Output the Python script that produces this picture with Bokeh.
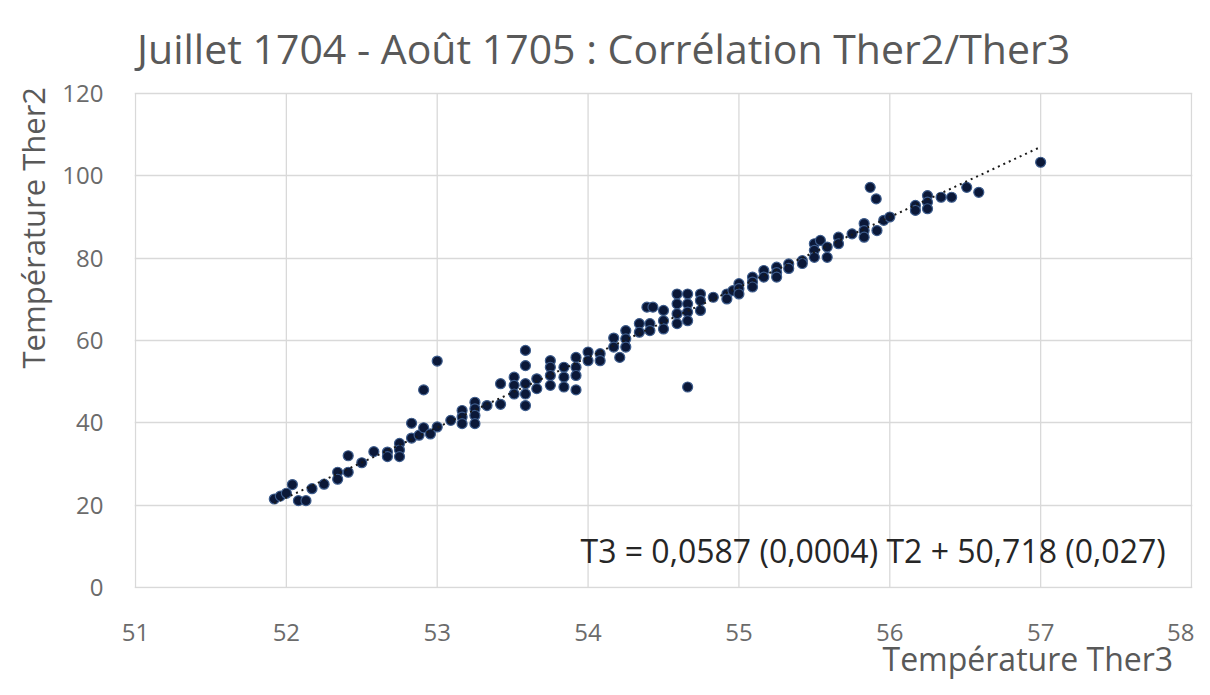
from bokeh.plotting import figure
from bokeh.models import FixedTicker, Label, Range1d, ColumnDataSource, Title
from bokeh.embed import file_html
from bokeh.resources import INLINE

title_text = "Juillet 1704 - Août 1705 : Corrélation Ther2/Ther3"
x_label = "Température Ther3"
y_label = "Température Ther2"
equation_text = "T3 = 0,0587 (0,0004) T2 + 50,718 (0,027)"
slope = 0.0587
intercept = 50.718
x_ticks = [51, 52, 53, 54, 55, 56, 57, 58]
y_ticks = [0, 20, 40, 60, 80, 100, 120]

ther3 = [
    51.92, 51.96, 52.00, 52.04, 52.08, 52.13, 52.17, 52.25, 52.34, 52.34,
    52.41, 52.41, 52.50, 52.58, 52.67, 52.67, 52.75, 52.75, 52.75, 52.83,
    52.83, 52.88, 52.91, 52.91, 52.955, 53.00, 53.00, 53.09, 53.165, 53.165,
    53.165, 53.25, 53.25, 53.25, 53.25, 53.33, 53.42, 53.42, 53.51, 53.51,
    53.51, 53.585, 53.585, 53.585, 53.585, 53.585, 53.66, 53.66, 53.75, 53.75,
    53.75, 53.75, 53.84, 53.84, 53.84, 53.92, 53.92, 53.92, 53.92, 54.00,
    54.00, 54.08, 54.08, 54.17, 54.17, 54.21, 54.25, 54.25, 54.25, 54.34,
    54.34, 54.39, 54.43, 54.41, 54.41, 54.50, 54.50, 54.50, 54.59, 54.59,
    54.59, 54.59, 54.66, 54.66, 54.66, 54.66, 54.66, 54.745, 54.745, 54.745,
    54.83, 54.92, 54.92, 54.96, 55.00, 55.00, 55.00, 55.09, 55.09, 55.09,
    55.165, 55.165, 55.25, 55.25, 55.25, 55.33, 55.33, 55.42, 55.42, 55.50,
    55.50, 55.50, 55.54, 55.585, 55.585, 55.66, 55.66, 55.75, 55.83, 55.83,
    55.83, 55.87, 55.91, 55.915, 55.96, 56.00, 56.17, 56.17, 56.25, 56.25,
    56.25, 56.34, 56.41, 56.51, 56.59, 57.00,
]
ther2 = [
    21.5, 22.2, 22.9, 25.0, 21.1, 21.1, 24.0, 25.1, 28.0, 26.3,
    32.0, 28.0, 30.3, 33.0, 32.9, 31.8, 35.0, 33.4, 31.8, 39.9,
    36.3, 37.0, 48.0, 38.8, 37.3, 55.0, 39.0, 40.6, 43.0, 41.4,
    39.8, 45.0, 43.4, 41.8, 39.8, 44.2, 49.5, 44.5, 51.1, 49.1,
    47.0, 57.6, 53.9, 49.5, 47.0, 44.2, 50.7, 48.3, 55.1, 53.5,
    51.5, 49.1, 53.5, 51.1, 48.7, 55.9, 53.5, 51.5, 48.0, 57.2,
    55.1, 56.8, 55.1, 60.6, 58.4, 55.9, 62.4, 60.4, 58.4, 64.1,
    62.0, 68.1, 68.1, 64.1, 62.4, 67.3, 64.8, 62.8, 71.3, 68.9,
    66.5, 64.1, 71.3, 68.9, 66.9, 64.8, 48.7, 71.3, 69.7, 67.3,
    70.5, 71.3, 70.1, 72.1, 73.8, 72.6, 71.3, 75.4, 74.2, 73.0,
    77.0, 75.4, 77.8, 76.5, 75.4, 78.6, 77.5, 79.4, 78.7, 83.5,
    81.9, 80.2, 84.3, 82.7, 80.2, 85.1, 83.5, 85.9, 88.4, 86.7,
    85.1, 97.2, 94.4, 86.7, 89.2, 90.0, 92.8, 91.6, 95.2, 93.6,
    92.0, 94.8, 94.8, 97.2, 96.0, 103.3,
]

# trend line from the chart's own regression equation
trend_x = [min(ther3), max(ther3)]
trend_y = [(v - intercept) / slope for v in trend_x]

FONT = "Open Sans"
GRID = "#d9d9d9"

# pixel scale: 1 x-unit = 150.86 px, 1 y-unit = 4.117 px
XPAD = 1 / 150.86
YPAD = 1 / 4.117

# the frame reaches the top of the figure so the title can sit inside it
p = figure(width=1194, height=679, output_backend="svg", toolbar_location=None,
           title=None,
           x_range=Range1d(x_ticks[0] - XPAD, x_ticks[-1] + XPAD),
           y_range=Range1d(y_ticks[0] - YPAD, y_ticks[-1] + 93 * YPAD),
           min_border_left=134, min_border_right=2,
           min_border_top=0, min_border_bottom=91)
p.outline_line_color = None
p.background_fill_color = "white"
p.border_fill_color = "white"

for ax in (p.xaxis[0], p.yaxis[0]):
    ax.axis_line_color = None
    ax.major_tick_line_color = None
    ax.minor_tick_line_color = None
    ax.major_label_text_font = FONT
    ax.major_label_text_font_size = "24px"
    ax.major_label_text_color = "#6b6b6b"

p.xaxis.ticker = FixedTicker(ticks=x_ticks)
p.yaxis.ticker = FixedTicker(ticks=y_ticks)
p.xaxis.major_label_standoff = 29
p.yaxis.major_label_standoff = 25

# horizontal gridlines from the grid; vertical ones limited to the 0..120 band
p.xgrid.visible = False
p.ygrid.ticker = FixedTicker(ticks=y_ticks)
p.ygrid.grid_line_color = GRID
p.ygrid.grid_line_width = 1.3
vgrid = ColumnDataSource(dict(x=x_ticks,
                              y0=[y_ticks[0]] * len(x_ticks),
                              y1=[y_ticks[-1]] * len(x_ticks)))
p.segment(x0="x", y0="y0", x1="x", y1="y1", source=vgrid,
          line_color=GRID, line_width=1.3)

src = ColumnDataSource(dict(x=ther3, y=ther2))
p.scatter("x", "y", source=src, size=10, marker="circle",
          fill_color="#0b1838", line_color="#3d5c8c", line_width=1.2)

p.line(trend_x, trend_y, line_color="#1a1a1a", line_width=2, line_dash="2 4")

p.add_layout(Label(x=51 + 1.5 * XPAD, y=120 + 45 * YPAD, text=title_text,
                   text_font=FONT, text_font_size="41px", text_color="#595959",
                   text_align="left", text_baseline="alphabetic"))

p.add_layout(Title(text=y_label, text_font=FONT, text_font_size="31px",
                   text_font_style="normal", text_color="#595959",
                   align="left", offset=220, standoff=12), "left")
p.add_layout(Title(text=x_label, text_font=FONT, text_font_size="32px",
                   text_font_style="normal", text_color="#595959",
                   align="left", offset=748, standoff=-17), "below")

p.add_layout(Label(x=53.95, y=9.0, text=equation_text, text_font=FONT,
                   text_font_size="32px", text_color="#262626",
                   text_align="left", text_baseline="middle"))

open("out.html", "w").write(file_html(p, INLINE))
